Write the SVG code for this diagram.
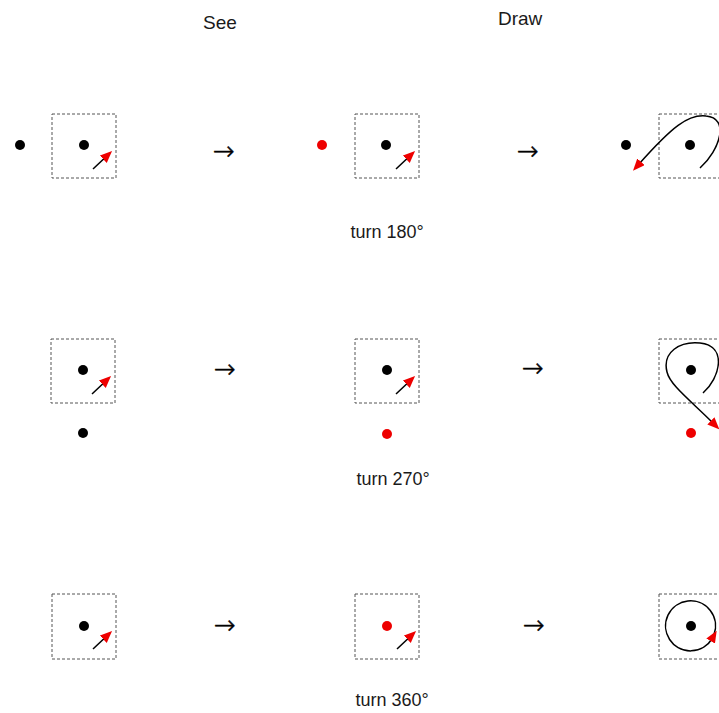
<svg xmlns="http://www.w3.org/2000/svg" width="719" height="713" viewBox="0 0 719 713">
<style>
.box{fill:none;stroke:#555;stroke-width:1;stroke-dasharray:3,2}
.dot{fill:#000}
.red{fill:#ee0000}
.ln{fill:none;stroke:#000;stroke-width:1.5}
.t{font-family:"Liberation Sans",Arial,sans-serif;fill:#1a1a1a}
.hd{font-size:19px}
.lb{font-size:18px;text-anchor:middle}
.ar{font-family:"DejaVu Sans",sans-serif;font-weight:200;font-size:26px;text-anchor:middle;fill:#000;stroke:#000;stroke-width:0.5}
</style>
<defs>
<marker id="ah" markerUnits="userSpaceOnUse" markerWidth="14" markerHeight="12" refX="3" refY="5" orient="auto">
<path d="M0,0 L12,5 L0,10 z" fill="#ee0000"/>
</marker>
</defs>
<rect width="719" height="713" fill="#fff"/>
<text class="t hd" x="203" y="29">See</text>
<text class="t hd" x="498" y="25">Draw</text>

<g id="row1-see">
<circle class="dot" cx="20" cy="145" r="5"/>
<rect class="box" x="52" y="114" width="64" height="64"/>
<circle class="dot" cx="84" cy="145" r="5"/>
<line class="ln" x1="93" y1="169" x2="105.5" y2="157.2" marker-end="url(#ah)"/>
</g>
<g id="row1-mid">
<circle class="red" cx="322" cy="145" r="5"/>
<rect class="box" x="355" y="114" width="64" height="64"/>
<circle class="dot" cx="386" cy="145" r="5"/>
<line class="ln" x1="396" y1="169" x2="408.5" y2="157.2" marker-end="url(#ah)"/>
</g>
<g id="row1-draw">
<circle class="dot" cx="626" cy="145" r="5"/>
<rect class="box" x="659" y="114" width="64" height="64"/>
<circle class="dot" cx="690" cy="145" r="5"/>
</g>

<g id="row2-see">
<rect class="box" x="51" y="339" width="64" height="64"/>
<circle class="dot" cx="83" cy="370" r="5"/>
<circle class="dot" cx="83" cy="433" r="5"/>
<line class="ln" x1="92" y1="394" x2="104.5" y2="382.2" marker-end="url(#ah)"/>
</g>
<g id="row2-mid">
<rect class="box" x="355" y="339" width="64" height="64"/>
<circle class="dot" cx="387" cy="370" r="5"/>
<circle class="red" cx="387" cy="434" r="5"/>
<line class="ln" x1="396" y1="394" x2="408.5" y2="382.2" marker-end="url(#ah)"/>
</g>
<g id="row2-draw">
<rect class="box" x="659" y="339" width="64" height="64"/>
<circle class="dot" cx="691" cy="370" r="5"/>
<circle class="red" cx="691" cy="433" r="5"/>
</g>

<g id="row3-see">
<rect class="box" x="52" y="594" width="64" height="65"/>
<circle class="dot" cx="84" cy="626" r="5"/>
<line class="ln" x1="93" y1="649" x2="105.5" y2="637.2" marker-end="url(#ah)"/>
</g>
<g id="row3-mid">
<rect class="box" x="355" y="594" width="64" height="65"/>
<circle class="red" cx="387" cy="626" r="5"/>
<line class="ln" x1="397" y1="649" x2="409.5" y2="637.2" marker-end="url(#ah)"/>
</g>
<g id="row3-draw">
<rect class="box" x="659" y="594" width="64" height="65"/>
<circle class="dot" cx="691" cy="626" r="5"/>
</g>

<g id="connectors">
<text class="ar" x="224" y="160">→</text>
<text class="ar" x="528" y="160">→</text>
<text class="ar" x="225" y="378">→</text>
<text class="ar" x="533" y="377">→</text>
<text class="ar" x="225" y="634">→</text>
<text class="ar" x="534" y="634">→</text>
<path class="ln" d="M700,168 C720,150 730,118 706,116 C688,114 672,127 639,164" marker-end="url(#ah)"/>
<path class="ln" d="M703,393 C720,378 728,346 700,343 C680,341 662,352 667,372 C670,385 690,400 713,423" marker-end="url(#ah)"/>
<path class="ln" d="M714,634.6 A25,25 0 1 0 712.15,638.5" marker-end="url(#ah)"/>
</g>

<text class="t lb" x="387" y="238">turn 180°</text>
<text class="t lb" x="393" y="485">turn 270°</text>
<text class="t lb" x="392" y="706">turn 360°</text>
</svg>
